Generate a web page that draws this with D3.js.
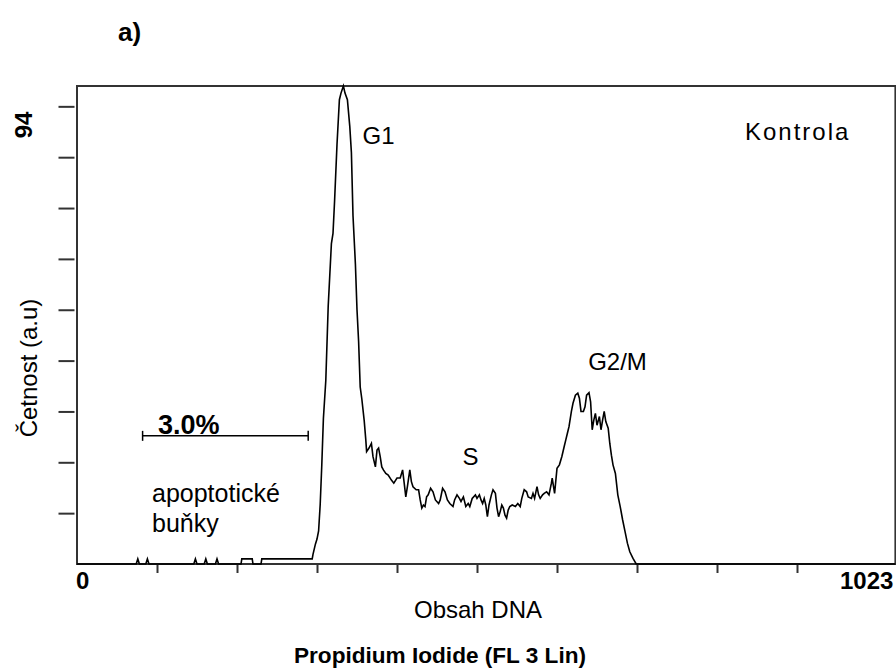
<!DOCTYPE html>
<html>
<head>
<meta charset="utf-8">
<script src="https://cdn.jsdelivr.net/npm/d3@7"></script>
<style>
  html, body { margin: 0; padding: 0; background: #fff; }
  svg { display: block; }
  text { font-family: "Liberation Sans", Arial, sans-serif; fill: #000; }
</style>
</head>
<body>
<svg id="chart" width="896" height="668"></svg>
<script>
// ---- data (channel, count) ----
const channels = [0,74,76,78,86,88,90,146,148,150,159,161,163,173,175,177,205,206,219,220,230,231,294,
  295,298,300,302,304,306,308,311,314,318,320,322,325,328,330,333,335,338,341,343,345,348,350,352,354,356,359,361,
  362,365,368,370,373,375,377,379,381,383,386,389,393,396,400,404,407,409,411,413,416,418,420,424,427,429,431,433,435,437,439,442,445,448,452,454,457,460,463,466,470,472,475,478,480,483,486,489,
  491,494,498,500,503,505,507,509,511,513,515,518,520,523,525,527,529,531,533,535,537,539,541,544,548,551,554,556,559,562,564,568,570,572,575,577,579,582,584,587,590,593,594,597,
  600,603,606,609,611,613,615,618,620,623,626,628,630,633,635,637,640,642,644,646,648,650,653,655,657,659,661,664,666,668,670,673,676,679,682,685,688,691,695,699,1023];
const counts = [0,0,1,0,0,1,0,0,1,0,0,1,0,0,1,0,0,1,1,0,0,1,1,
  1.9,3.9,4.9,6.5,11.7,19.5,28.6,36.1,50.7,63,65,71.5,82.5,91.3,92.6,94,92.6,91.3,86,80.9,68.5,59,50,43.8,34.8,32.5,28.2,24.4,
  22.1,22.8,23.7,21.1,19.1,22.4,22.8,21.1,19.1,18.5,17.8,17.5,16.5,15.9,16.9,16.9,18.5,15.9,13.2,15.2,18.5,16.2,15.2,14.6,14.6,12.6,11.0,11.6,11.3,13.2,13.6,14.9,14.2,12.6,11.9,12.6,14.9,14.2,12.6,11.9,11.3,12.6,13.6,12.9,12.3,13.2,11.3,11.9,
  11.3,12.9,13.6,12.9,13.6,12.6,11.9,12.9,11.6,9.3,11.6,13.6,14.6,13.9,11.0,9.3,10.3,11.6,11.0,9.6,9.0,10.6,11.3,11.6,11.3,11.9,11.3,12.9,14.6,14.2,13.2,12.9,13.9,12.9,15.2,13.6,12.9,13.6,13.9,14.2,13.6,15.9,16.9,13.9,
  18.8,19.5,21.1,23.1,24.4,25.7,27.0,30.0,31.6,33.2,33.6,32.6,30.0,30.0,30.9,33.2,33.7,31.9,26.4,28.3,29.6,27.3,29.0,26.4,28.3,30.0,28.0,26.7,23.7,21.4,19.5,17.8,13.6,11.3,8.7,6.4,4.1,2.4,1.1,0,0];

const xDomain = [0, 1023];
const yDomain = [0, 94];
const xTicks = [100,200,300,400,500,600,700,800,900];
const yTicks = [10,20,30,40,50,60,70,80,90];
const xEndLabels = ["0", "1023"];
const yTopLabel = "94";
const gateRange = [82, 289];     // apoptotic gate (channels)
const gateLevel = 25.2;          // drawn height of the gate marker (counts)
const peakLabels = [
  {text: "G1", ch: 357, c: 82.5, ls: 0},
  {text: "S", ch: 482, c: 19.5, ls: 0},
  {text: "G2/M", ch: 639, c: 38.2, ls: 0},
  {text: "Kontrola", ch: 835, c: 83.4, ls: 2}
];

// ---- drawing ----
const svg = d3.select("#chart");
const x = d3.scaleLinear().domain(xDomain).range([77, 895.4]);
const y = d3.scaleLinear().domain(yDomain).range([564, 86]);
const data = channels.map((c, i) => ({c, n: counts[i]}));

// frame
svg.append("rect")
  .attr("x", x(0)).attr("y", y(94))
  .attr("width", x(1023) - x(0)).attr("height", y(0) - y(94))
  .attr("fill", "none").attr("stroke", "#333").attr("stroke-width", 2);

// y axis ticks
const gy = svg.append("g").attr("transform", "translate(74.5,0)")
  .call(d3.axisLeft(y).tickValues(yTicks).tickSize(16).tickFormat(""));
gy.select(".domain").remove();
gy.selectAll(".tick line").attr("stroke", "#333").attr("stroke-width", 2);

// x axis ticks
const gx = svg.append("g").attr("transform", "translate(0,564)")
  .call(d3.axisBottom(x).tickValues(xTicks).tickSize(9).tickFormat(""));
gx.select(".domain").remove();
gx.selectAll(".tick line").attr("stroke", "#333").attr("stroke-width", 2);

// histogram line
svg.append("path")
  .datum(data)
  .attr("fill", "none").attr("stroke", "#000").attr("stroke-width", 1.6)
  .attr("stroke-linejoin", "miter")
  .attr("d", d3.line().x(d => x(d.c)).y(d => y(d.n)));

// axis end labels
svg.append("text").attr("x", x(0) - 1).attr("y", 589)
  .attr("font-size", 24).attr("font-weight", "bold").text(xEndLabels[0]);
svg.append("text").attr("x", x(1023) - 2).attr("y", 589)
  .attr("text-anchor", "end").attr("font-size", 24).attr("font-weight", "bold").text(xEndLabels[1]);
svg.append("text")
  .attr("transform", `translate(32,${y(94) + 39}) rotate(-90)`)
  .attr("text-anchor", "middle").attr("font-size", 24).attr("font-weight", "bold").text(yTopLabel);

// axis titles
svg.append("text").attr("x", 478).attr("y", 618).attr("text-anchor", "middle")
  .attr("font-size", 24).text("Obsah DNA");
svg.append("text").attr("x", 440).attr("y", 663).attr("text-anchor", "middle")
  .attr("font-size", 22.6).attr("font-weight", "bold").text("Propidium Iodide (FL 3 Lin)");
svg.append("text")
  .attr("transform", "translate(37,368) rotate(-90)")
  .attr("text-anchor", "middle").attr("font-size", 24).text("Četnost (a.u)");

// panel label
svg.append("text").attr("x", 118).attr("y", 41)
  .attr("font-size", 26).attr("font-weight", "bold").text("a)");

// peak labels
peakLabels.forEach(p => {
  svg.append("text").attr("x", x(p.ch)).attr("y", y(p.c))
    .attr("font-size", 24).attr("letter-spacing", p.ls).text(p.text);
});

// apoptotic gate marker
const gY = y(gateLevel);
const gate = svg.append("g").attr("stroke", "#000").attr("stroke-width", 1.5);
gate.append("line").attr("x1", x(gateRange[0])).attr("x2", x(gateRange[1])).attr("y1", gY).attr("y2", gY);
gate.append("line").attr("x1", x(gateRange[0])).attr("x2", x(gateRange[0])).attr("y1", gY - 5).attr("y2", gY + 5);
gate.append("line").attr("x1", x(gateRange[1])).attr("x2", x(gateRange[1])).attr("y1", gY - 5).attr("y2", gY + 5);
svg.append("text").attr("x", 158).attr("y", gY - 2)
  .attr("font-size", 27).attr("font-weight", "bold").text("3.0%");
svg.append("text").attr("x", 152).attr("y", 502).attr("font-size", 25).text("apoptotické");
svg.append("text").attr("x", 152).attr("y", 532).attr("font-size", 25).text("buňky");
</script>
</body>
</html>
